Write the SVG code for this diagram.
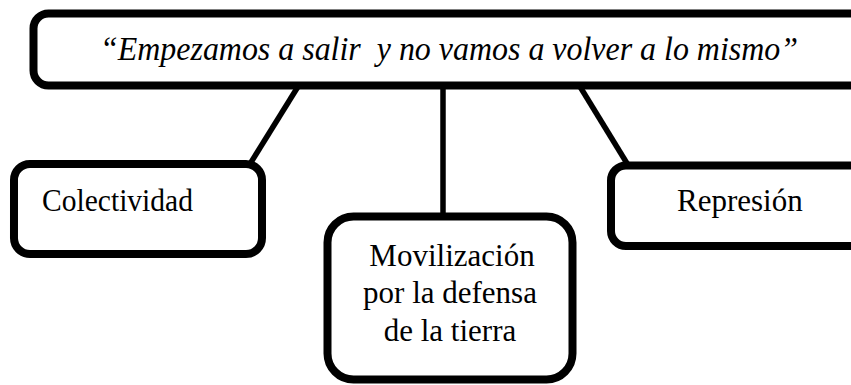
<svg xmlns="http://www.w3.org/2000/svg" width="851" height="385" viewBox="0 0 851 385">
<style>
.box{fill:#fff;stroke:#000;stroke-width:8}
.ln{stroke:#000;stroke-width:5.5;fill:none}
.t{font-family:"Liberation Serif","Times New Roman",serif;font-size:31px;fill:#000}
.ti{font-family:"Liberation Serif","Times New Roman",serif;font-size:33px;font-style:italic;fill:#000;white-space:pre}
</style>
<g id="connectors">
<line class="ln" x1="299" y1="85" x2="250" y2="164"/>
<line class="ln" x1="443" y1="85" x2="443" y2="217"/>
<line class="ln" x1="579" y1="85" x2="628" y2="165"/>
</g>
<g id="top">
<rect class="box" x="33.5" y="13.5" width="880" height="72" rx="15"/>
<text class="ti" x="100" y="60" xml:space="preserve" textLength="698" lengthAdjust="spacingAndGlyphs">“Empezamos a salir  y no vamos a volver a lo mismo”</text>
</g>
<g id="colectividad">
<rect class="box" x="14" y="164" width="248" height="90" rx="16"/>
<text class="t" x="42" y="211" textLength="151" lengthAdjust="spacingAndGlyphs">Colectividad</text>
</g>
<g id="movilizacion">
<rect class="box" x="327.5" y="216.5" width="245" height="163" rx="26"/>
<text class="t" x="452" y="266" text-anchor="middle">Movilización</text>
<text class="t" x="450" y="303" text-anchor="middle">por la defensa</text>
<text class="t" x="450" y="341" text-anchor="middle">de la tierra</text>
</g>
<g id="represion">
<rect class="box" x="611" y="165.5" width="300" height="80.5" rx="15"/>
<text class="t" x="677" y="211">Represión</text>
</g>
</svg>
